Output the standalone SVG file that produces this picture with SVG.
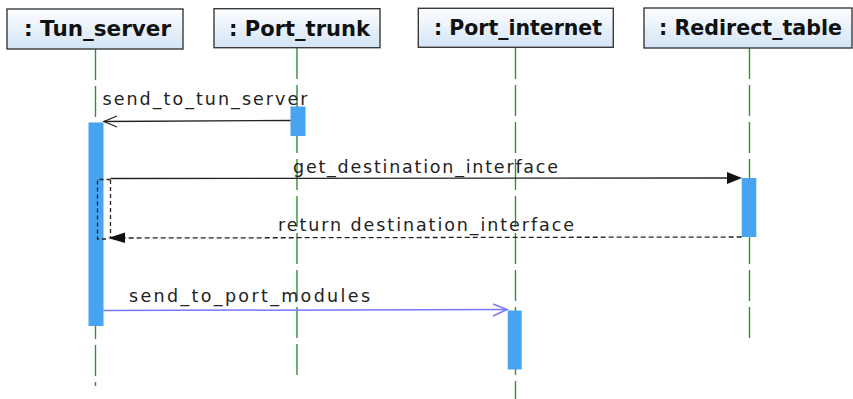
<svg xmlns="http://www.w3.org/2000/svg" width="853" height="399" viewBox="0 0 853 399">
  <defs>
    <linearGradient id="headFill" x1="0" y1="0" x2="0" y2="1">
      <stop offset="0" stop-color="#fdfeff"/>
      <stop offset="1" stop-color="#d3e4f5"/>
    </linearGradient>
    <style>
      .head { fill: url(#headFill); stroke: #3a3a3a; stroke-width: 1.4; }
      .headText { font-family: "DejaVu Sans", "Liberation Sans", sans-serif; font-weight: bold; font-size: 21px; fill: #111; }
      .life { stroke: #2f9330; stroke-width: 1.4; stroke-dasharray: 31 6; fill: none; }
      .act { fill: #47a4f0; }
      .msg { font-family: "DejaVu Sans", "Liberation Sans", sans-serif; font-size: 17.5px; fill: #222; }
      .call { stroke: #222; stroke-width: 1.3; fill: none; }
      .ret { stroke: #222; stroke-width: 1.3; stroke-dasharray: 5 3; fill: none; }
      .nest { stroke: #222; stroke-width: 1.3; stroke-dasharray: 4 3; fill: none; }
      .async { stroke: #7878ff; stroke-width: 1.5; fill: none; }
    </style>
  </defs>

  <!-- lifelines -->
  <g id="lifelines">
    <line class="life" x1="95.5" y1="49" x2="95.5" y2="386"/>
    <line class="life" x1="297" y1="48" x2="297" y2="377"/>
    <line class="life" x1="515.5" y1="48" x2="515.5" y2="399"/>
    <line class="life" x1="749.5" y1="48" x2="749.5" y2="340"/>
  </g>

  <!-- participants -->
  <g id="tun_server">
    <rect class="head" x="7" y="9" width="176" height="40"/>
    <text class="headText" x="24" y="36" textLength="147" lengthAdjust="spacingAndGlyphs">: Tun_server</text>
    <rect class="act" x="88.5" y="122.5" width="15" height="203.5"/>
  </g>
  <g id="port_trunk">
    <rect class="head" x="214" y="8.7" width="166" height="39"/>
    <text class="headText" x="229" y="35.5" textLength="141" lengthAdjust="spacingAndGlyphs">: Port_trunk</text>
    <rect class="act" x="290.5" y="106.5" width="15" height="29.5"/>
  </g>
  <g id="port_internet">
    <rect class="head" x="418.3" y="8.3" width="195" height="39"/>
    <text class="headText" x="434" y="35.3" textLength="168" lengthAdjust="spacingAndGlyphs">: Port_internet</text>
    <rect class="act" x="507.7" y="310.5" width="14" height="59"/>
  </g>
  <g id="redirect_table">
    <rect class="head" x="644" y="8" width="208" height="40"/>
    <text class="headText" x="659" y="35.3" textLength="183" lengthAdjust="spacingAndGlyphs">: Redirect_table</text>
    <rect class="act" x="741.7" y="178" width="14.6" height="59"/>
  </g>

  <!-- messages -->
  <g id="connectors">
    <!-- send_to_tun_server -->
    <line class="call" x1="290.5" y1="120.5" x2="104" y2="121.5"/>
    <polyline class="call" points="117,116 104,121.5 117,127"/>
    <text class="msg" x="102.5" y="105" textLength="205" lengthAdjust="spacing">send_to_tun_server</text>

    <!-- nested execution on Tun_server -->
    <polyline class="nest" points="110.5,179.5 97.5,179.5 97.5,239 107,239"/>
    <line class="nest" x1="110.5" y1="180" x2="110.5" y2="238"/>

    <!-- get_destination_interface -->
    <line class="call" x1="110.5" y1="178.5" x2="730" y2="178"/>
    <polygon points="742,178 727,172 727,184" fill="#111"/>
    <text class="msg" x="293" y="173" textLength="265" lengthAdjust="spacing">get_destination_interface</text>

    <!-- return destination_interface -->
    <line class="ret" x1="741.7" y1="237" x2="124" y2="238"/>
    <polygon points="108,238 125,232.5 125,243" fill="#111"/>
    <text class="msg" x="278" y="231" textLength="296" lengthAdjust="spacing">return destination_interface</text>

    <!-- send_to_port_modules -->
    <line class="async" x1="103.5" y1="310.5" x2="506.5" y2="309.5"/>
    <polyline class="async" points="493,304 507,309.5 493,316"/>
    <text class="msg" x="129" y="301.5" textLength="241" lengthAdjust="spacing">send_to_port_modules</text>
  </g>
</svg>
